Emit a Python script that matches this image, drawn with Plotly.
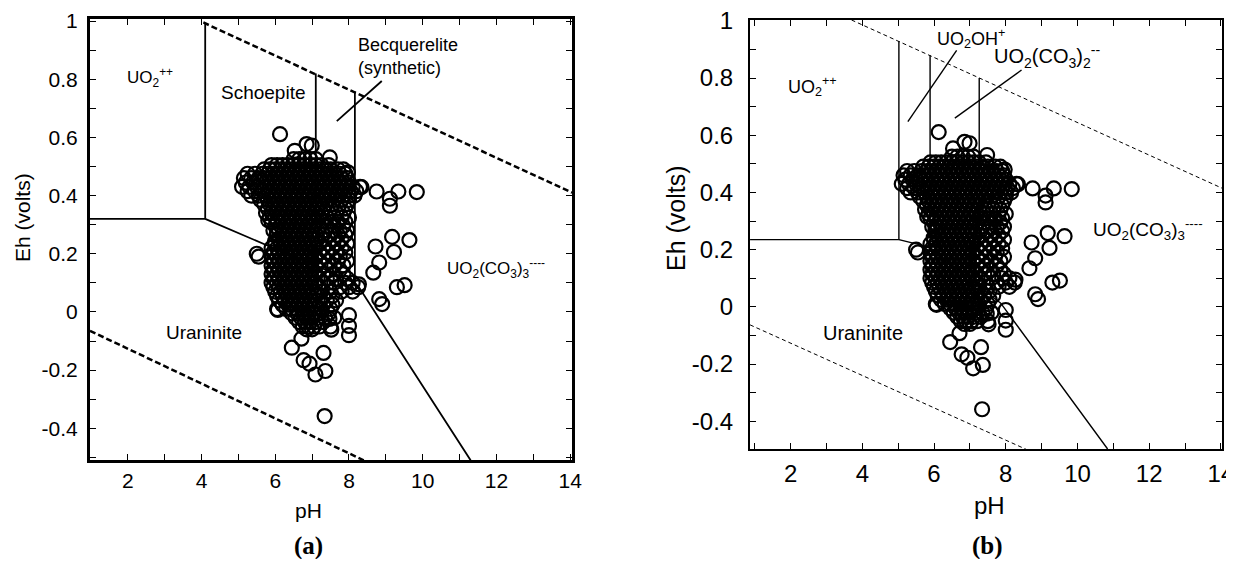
import plotly.graph_objects as go

# ---------------- data ----------------
# dense core of the sample cloud: each Eh level (V) with the pH values of circles on it
cluster_eh = [0.525, 0.505, 0.49, 0.475, 0.46, 0.445, 0.43, 0.415, 0.40, 0.385,
              0.37, 0.355, 0.34, 0.325, 0.31, 0.295, 0.28, 0.265, 0.25, 0.235,
              0.22, 0.205, 0.19, 0.175, 0.16, 0.145, 0.13, 0.115, 0.10, 0.085,
              0.07, 0.055, 0.04, 0.025, 0.01, -0.005, -0.02, -0.035, -0.05, -0.06]
cluster_ph = [
    [6.5, 6.65, 6.8, 6.95, 7.1],
    [5.9, 6.05, 6.2, 6.35, 6.5, 6.65, 6.8, 6.95, 7.1, 7.25, 7.45],
    [5.7, 5.85, 6.0, 6.15, 6.3, 6.45, 6.6, 6.75, 6.9, 7.05, 7.2, 7.35, 7.5, 7.7, 7.85],
    [5.25, 5.45, 5.65, 5.8, 5.95, 6.1, 6.25, 6.4, 6.55, 6.7, 6.85, 7.0, 7.15, 7.3, 7.45, 7.6, 7.75, 7.9],
    [5.15, 5.35, 5.55, 5.7, 5.85, 6.0, 6.15, 6.3, 6.45, 6.6, 6.75, 6.9, 7.05, 7.2, 7.35, 7.5, 7.65, 7.8, 7.95],
    [5.2, 5.4, 5.6, 5.75, 5.9, 6.05, 6.2, 6.35, 6.5, 6.65, 6.8, 6.95, 7.1, 7.25, 7.4, 7.55, 7.7, 7.85, 8.0],
    [5.1, 5.3, 5.5, 5.7, 5.85, 6.0, 6.15, 6.3, 6.45, 6.6, 6.75, 6.9, 7.05, 7.2, 7.35, 7.5, 7.65, 7.8, 7.95, 8.1, 8.3],
    [5.25, 5.45, 5.65, 5.8, 5.95, 6.1, 6.25, 6.4, 6.55, 6.7, 6.85, 7.0, 7.15, 7.3, 7.45, 7.6, 7.75, 7.9, 8.05, 8.2],
    [5.35, 5.55, 5.75, 5.9, 6.05, 6.2, 6.35, 6.5, 6.65, 6.8, 6.95, 7.1, 7.25, 7.4, 7.55, 7.7, 7.85, 8.0, 8.15],
    [5.6, 5.8, 5.95, 6.1, 6.25, 6.4, 6.55, 6.7, 6.85, 7.0, 7.15, 7.3, 7.45, 7.6, 7.8, 8.0],
    [5.7, 5.85, 6.0, 6.15, 6.3, 6.45, 6.6, 6.75, 6.9, 7.05, 7.2, 7.35, 7.55, 7.75, 7.95],
    [5.8, 5.95, 6.1, 6.25, 6.4, 6.55, 6.7, 6.85, 7.0, 7.15, 7.3, 7.5, 7.7, 7.9],
    [5.75, 5.9, 6.05, 6.2, 6.35, 6.5, 6.65, 6.8, 6.95, 7.1, 7.25, 7.45, 7.65, 7.85],
    [5.85, 6.0, 6.15, 6.3, 6.45, 6.6, 6.75, 6.9, 7.05, 7.2, 7.4, 7.6, 7.8, 8.0],
    [5.9, 6.05, 6.2, 6.35, 6.5, 6.65, 6.8, 6.95, 7.1, 7.3, 7.5, 7.7, 7.9],
    [6.0, 6.15, 6.3, 6.45, 6.6, 6.75, 6.9, 7.05, 7.2, 7.4, 7.6, 7.85],
    [5.95, 6.1, 6.25, 6.4, 6.55, 6.7, 6.85, 7.0, 7.15, 7.35, 7.55, 7.75, 7.95],
    [6.05, 6.2, 6.35, 6.5, 6.65, 6.8, 6.95, 7.1, 7.3, 7.5, 7.7, 7.9],
    [6.1, 6.25, 6.4, 6.55, 6.7, 6.85, 7.0, 7.15, 7.35, 7.6, 7.8],
    [6.0, 6.15, 6.3, 6.45, 6.6, 6.75, 6.9, 7.05, 7.2, 7.45, 7.7, 7.95],
    [5.9, 6.05, 6.2, 6.35, 6.5, 6.65, 6.8, 6.95, 7.1, 7.3, 7.55, 7.8],
    [5.95, 6.1, 6.25, 6.4, 6.55, 6.7, 6.85, 7.0, 7.2, 7.4, 7.65, 7.9],
    [5.9, 6.05, 6.2, 6.35, 6.5, 6.65, 6.8, 6.95, 7.1, 7.3, 7.55, 7.75],
    [5.95, 6.1, 6.25, 6.4, 6.55, 6.7, 6.85, 7.0, 7.2, 7.45, 7.7, 7.95],
    [5.9, 6.05, 6.2, 6.35, 6.5, 6.65, 6.8, 6.95, 7.1, 7.35, 7.6, 7.85],
    [5.95, 6.1, 6.25, 6.4, 6.55, 6.7, 6.85, 7.0, 7.2, 7.45, 7.75],
    [5.9, 6.05, 6.2, 6.35, 6.5, 6.65, 6.8, 6.95, 7.1, 7.3, 7.55, 7.85],
    [5.95, 6.1, 6.25, 6.4, 6.55, 6.7, 6.85, 7.0, 7.15, 7.4, 7.65, 7.95],
    [5.9, 6.05, 6.2, 6.35, 6.5, 6.65, 6.8, 6.95, 7.1, 7.3, 7.6, 7.9, 8.1],
    [5.95, 6.1, 6.25, 6.4, 6.55, 6.7, 6.85, 7.0, 7.2, 7.45, 7.75, 8.0, 8.25],
    [6.0, 6.15, 6.3, 6.45, 6.6, 6.75, 6.9, 7.05, 7.25, 7.5, 7.8, 8.1],
    [6.05, 6.2, 6.35, 6.5, 6.65, 6.8, 6.95, 7.1, 7.3, 7.55],
    [6.1, 6.25, 6.4, 6.55, 6.7, 6.85, 7.0, 7.15, 7.4, 7.65],
    [6.2, 6.35, 6.5, 6.65, 6.8, 6.95, 7.1, 7.3, 7.55],
    [6.05, 6.3, 6.45, 6.6, 6.75, 6.9, 7.05, 7.25, 7.5],
    [6.45, 6.6, 6.75, 6.9, 7.05, 7.2, 7.45],
    [6.55, 6.7, 6.85, 7.0, 7.15, 7.35, 7.6],
    [6.65, 6.8, 6.95, 7.1, 7.3],
    [6.75, 6.9, 7.05, 7.2, 7.5],
    [6.85, 7.0],
]

# isolated circles around the cloud
outlier_ph = [6.13, 6.53, 6.85, 6.99, 7.48, 7.97,
              8.34, 8.75, 9.11, 9.11, 9.34, 9.84,
              5.81, 6.04, 5.50, 5.55, 5.99,
              8.72, 9.17, 9.64, 9.22, 8.82, 8.66, 9.30, 9.51, 8.82, 8.90, 8.27,
              6.07, 7.47, 7.52, 8.00, 8.00, 8.00,
              6.45, 6.71, 6.77, 6.93, 7.09, 7.36, 7.31, 7.34]
outlier_eh = [0.611, 0.554, 0.577, 0.572, 0.531, 0.480,
              0.429, 0.414, 0.389, 0.365, 0.414, 0.412,
              0.315, 0.270, 0.200, 0.190, 0.242,
              0.225, 0.258, 0.247, 0.206, 0.170, 0.135, 0.085, 0.092, 0.044, 0.027, 0.095,
              0.007, -0.024, -0.061, -0.011, -0.048, -0.080,
              -0.123, -0.092, -0.166, -0.178, -0.215, -0.203, -0.141, -0.358]

# axis ticks
x_tick_vals = [2, 4, 6, 8, 10, 12, 14]
x_tick_text = ["2", "4", "6", "8", "10", "12", "14"]
y_tick_vals = [1.0, 0.8, 0.6, 0.4, 0.2, 0.0, -0.2, -0.4]
y_tick_text = ["1", "0.8", "0.6", "0.4", "0.2", "0", "-0.2", "-0.4"]

# phase boundaries, panel (a)
a_horiz_ph, a_horiz_eh = [0.975, 4.1], [0.32, 0.32]
a_v1_ph, a_v1_eh = [4.1, 4.1], [0.32, 0.99]
a_v2_ph, a_v2_eh = [7.1, 7.1], [0.16, 0.82]
a_v3_ph, a_v3_eh = [8.16, 8.16], [0.10, 0.758]
a_ura_ph = [4.1, 5.85, 7.1, 8.16, 8.28, 11.3]
a_ura_eh = [0.32, 0.225, 0.16, 0.10, 0.083, -0.51]
a_lead_ph, a_lead_eh = [7.67, 8.89], [0.656, 0.794]
a_wup_ph, a_wup_eh = [4.05, 14.05], [0.995, 0.41]
a_wlo_ph, a_wlo_eh = [0.975, 8.4], [-0.065, -0.51]

# phase boundaries, panel (b)
b_horiz_ph, b_horiz_eh = [0.87, 5.02], [0.235, 0.235]
b_v1_ph, b_v1_eh = [5.02, 5.02], [0.235, 0.93]
b_v2_ph, b_v2_eh = [5.89, 5.89], [0.205, 0.88]
b_v3_ph, b_v3_eh = [7.26, 7.26], [0.07, 0.80]
b_ura_ph = [5.02, 5.7, 5.89, 7.26, 7.86, 10.84]
b_ura_eh = [0.235, 0.214, 0.205, 0.07, 0.013, -0.497]
b_lead1_ph, b_lead1_eh = [5.27, 6.63], [0.648, 0.897]
b_lead2_ph, b_lead2_eh = [6.58, 8.44], [0.66, 0.828]
b_wup_ph, b_wup_eh = [3.7, 14.03], [1.003, 0.415]
b_wlo_ph, b_wlo_eh = [0.87, 8.6], [-0.063, -0.5]

# ---------------- build figure ----------------
ph_all, eh_all = [], []
for lvl, row in zip(cluster_eh, cluster_ph):
    for p in row:
        ph_all.append(p)
        eh_all.append(lvl)
ph_all += outlier_ph
eh_all += outlier_eh

FONT = "Liberation Sans, Arial, sans-serif"
SERIF = "Liberation Serif, Times New Roman, serif"
fig = go.Figure()


def line(xs, ys, xa, ya, width, dash="solid"):
    fig.add_trace(go.Scatter(x=xs, y=ys, mode="lines", xaxis=xa, yaxis=ya,
                             line=dict(color="black", width=width, dash=dash),
                             hoverinfo="skip", showlegend=False))


# panel (a)
for xs, ys in [(a_horiz_ph, a_horiz_eh), (a_v1_ph, a_v1_eh), (a_v2_ph, a_v2_eh),
               (a_v3_ph, a_v3_eh), (a_ura_ph, a_ura_eh), (a_lead_ph, a_lead_eh)]:
    line(xs, ys, "x", "y", 1.8)
for xs, ys in [(a_wup_ph, a_wup_eh), (a_wlo_ph, a_wlo_eh)]:
    line(xs, ys, "x", "y", 2.5, "6px,3px")
fig.add_trace(go.Scatter(x=ph_all, y=eh_all, mode="markers", xaxis="x", yaxis="y",
                         marker=dict(symbol="circle-open", size=14, color="black",
                                     line=dict(width=2.2, color="black")),
                         showlegend=False))

# panel (b)
for xs, ys in [(b_horiz_ph, b_horiz_eh), (b_v1_ph, b_v1_eh), (b_v2_ph, b_v2_eh),
               (b_v3_ph, b_v3_eh), (b_ura_ph, b_ura_eh), (b_lead1_ph, b_lead1_eh),
               (b_lead2_ph, b_lead2_eh)]:
    line(xs, ys, "x2", "y2", 1.4)
for xs, ys in [(b_wup_ph, b_wup_eh), (b_wlo_ph, b_wlo_eh)]:
    line(xs, ys, "x2", "y2", 1.0, "4px,3px")
fig.add_trace(go.Scatter(x=ph_all, y=eh_all, mode="markers", xaxis="x2", yaxis="y2",
                         marker=dict(symbol="circle-open", size=14, color="black",
                                     line=dict(width=2.2, color="black")),
                         showlegend=False))


def xaxis(domain, rng, anchor, width, size, standoff):
    return dict(domain=domain, range=rng, anchor=anchor, showline=True, linewidth=width,
                linecolor="black", mirror="ticks", ticks="inside", ticklen=6, tickwidth=1.2,
                tickcolor="black", tickvals=x_tick_vals, ticktext=x_tick_text,
                ticklabelstandoff=standoff, automargin=False, ticklabeloverflow="allow",
                tickfont=dict(family=FONT, size=size, color="black"),
                minor=dict(dtick=1, tick0=0, ticks="inside", ticklen=6, tickwidth=1.2,
                           tickcolor="black"),
                showgrid=False, zeroline=False, fixedrange=True)


def yaxis(domain, rng, anchor, width, size, standoff):
    return dict(domain=domain, range=rng, anchor=anchor, showline=True, linewidth=width,
                linecolor="black", mirror="ticks", ticks="inside", ticklen=6, tickwidth=1.2,
                tickcolor="black", tickvals=y_tick_vals, ticktext=y_tick_text,
                ticklabelstandoff=standoff, automargin=False, ticklabeloverflow="allow",
                tickfont=dict(family=FONT, size=size, color="black"),
                minor=dict(dtick=0.1, tick0=0, ticks="inside", ticklen=6, tickwidth=1.2,
                           tickcolor="black"),
                showgrid=False, zeroline=False, fixedrange=True)


# the page body adds an 8 px margin, so the figure is 16 px smaller than the window
OFF = 8
W, H = 1218, 551


def px(X):
    return (X - OFF) / W


def py(Y):
    return 1 - (Y - OFF) / H


fig.update_layout(
    template="none",
    width=W, height=H, margin=dict(l=0, r=0, t=0, b=0, autoexpand=False),
    paper_bgcolor="white", plot_bgcolor="white", showlegend=False,
    xaxis=xaxis([px(90), px(572)], [0.975, 14.05], "y", 3, 21, 0),
    yaxis=yaxis([py(460), py(19)], [-0.509, 1.007], "x", 3, 21, 5),
    xaxis2=xaxis([px(750), px(1222)], [0.868, 14.03], "y2", 2, 24, 2),
    yaxis2=yaxis([py(449), py(20)], [-0.497, 1.003], "x2", 2, 24, 10),
)

ann = []


def txt(x, y, s, size, xref="x", yref="y", xanchor="center", angle=0, family=FONT, bold=False):
    ann.append(dict(x=x, y=y, xref=xref, yref=yref, text=("<b>%s</b>" % s) if bold else s,
                    showarrow=False, xanchor=xanchor, yanchor="middle", textangle=angle,
                    font=dict(family=family, size=size, color="black")))


# panel (a) labels
txt(2.6, 0.807, "UO<sub>2</sub><sup>++</sup>", 17)
txt(5.69, 0.753, "Schoepite", 19)
txt(8.2, 0.918, "Becquerelite", 18, xanchor="left")
txt(8.2, 0.838, "(synthetic)", 18, xanchor="left")
txt(4.08, -0.072, "Uraninite", 19)
txt(12.0, 0.151, "UO<sub>2</sub>(CO<sub>3</sub>)<sub>3</sub><sup>----</sup>", 17)
txt(px(22), py(218), "Eh (volts)", 21, "paper", "paper", angle=-90)
txt(px(308), py(510), "pH", 21, "paper", "paper")
txt(px(308), py(546), "(a)", 25, "paper", "paper", family=SERIF, bold=True)

# panel (b) labels
txt(2.61, 0.77, "UO<sub>2</sub><sup>++</sup>", 18, xref="x2", yref="y2")
txt(7.03, 0.939, "UO<sub>2</sub>OH<sup>+</sup>", 18, xref="x2", yref="y2")
txt(9.15, 0.874, "UO<sub>2</sub>(CO<sub>3</sub>)<sub>2</sub><sup>--</sup>", 20, xref="x2", yref="y2")
txt(11.96, 0.27, "UO<sub>2</sub>(CO<sub>3</sub>)<sub>3</sub><sup>----</sup>", 19, xref="x2", yref="y2")
txt(4.02, -0.09, "Uraninite", 20, xref="x2", yref="y2")
txt(px(676), py(218), "Eh (volts)", 25, "paper", "paper", angle=-90)
txt(px(989), py(505), "pH", 24, "paper", "paper")
txt(px(987), py(546), "(b)", 25, "paper", "paper", family=SERIF, bold=True)

fig.update_layout(annotations=ann)
fig.write_html("out.html")
